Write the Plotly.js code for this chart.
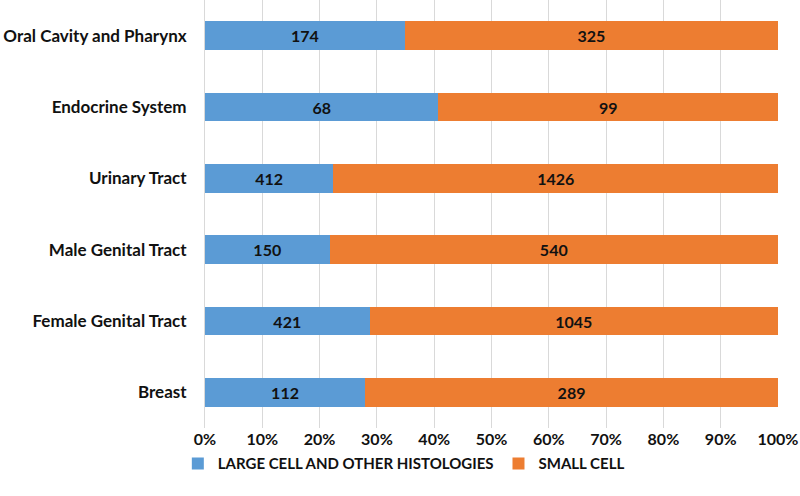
<!DOCTYPE html>
<html><head><meta charset="utf-8">
<script src="https://cdn.plot.ly/plotly-3.0.1.min.js"></script>
<style>html,body{margin:0;padding:0;background:#fff}#c{width:800px;height:496px}</style>
</head><body><div id="c"></div>
<script>
const categories = ["Breast","Female Genital Tract","Male Genital Tract","Urinary Tract","Endocrine System","Oral Cavity and Pharynx"];
const largeCell = [112,421,150,412,68,174];
const smallCell = [289,1045,540,1426,99,325];
const seriesNames = ["LARGE CELL AND OTHER HISTOLOGIES","SMALL CELL"];
const tickVals = [0,10,20,30,40,50,60,70,80,90,100];
const tickText = tickVals.map(v => v + "%");

const FONT = "Lato, 'Open Sans', sans-serif";
const mk = (vals, name, color) => ({
  type: 'bar', orientation: 'h', y: categories, x: vals, name: name,
  marker: {color: color}, text: vals.map(String), textposition: 'inside',
  insidetextanchor: 'middle', textangle: 0,
  textfont: {family: FONT, size: 16, color: '#111', weight: 'bold'},
  hoverinfo: 'none'
});
const data = [mk(largeCell, seriesNames[0], '#5B9BD5'), mk(smallCell, seriesNames[1], '#ED7D31')];
const layout = {
  width: 800, height: 496,
  margin: {l: 205, r: 22, t: 0, b: 68},
  barmode: 'stack', barnorm: 'percent', bargap: 0.6,
  paper_bgcolor: '#fff', plot_bgcolor: '#fff',
  font: {family: FONT, size: 16, color: '#111'},
  xaxis: {range: [0, 100], tickvals: tickVals, ticktext: tickText, showgrid: true,
    gridcolor: '#d9d9d9', gridwidth: 1, zeroline: false, showline: false,
    tickfont: {family: FONT, size: 16, color: '#111', weight: 'bold'}, ticks: '', ticklen: 0},
  yaxis: {showline: true, linecolor: '#d9d9d9', linewidth: 1, showgrid: false, zeroline: false,
    ticks: '', ticklabelstandoff: 14,
    tickfont: {family: FONT, size: 17, color: '#111', weight: 'bold'}},
  legend: {orientation: 'h', x: 0.347, xanchor: 'center', xref: 'paper', y: -0.045, yanchor: 'top',
    font: {family: FONT, size: 15, color: '#111', weight: 'bold'}, traceorder: 'normal'},
  showlegend: true
};
Plotly.newPlot('c', data, layout, {displayModeBar: false, staticPlot: true});
</script></body></html>
